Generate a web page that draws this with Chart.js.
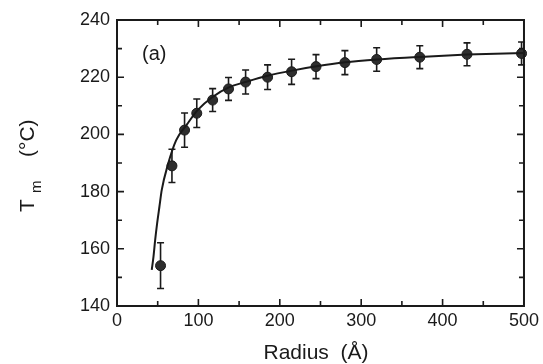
<!DOCTYPE html>
<html>
<head>
<meta charset="utf-8">
<script src="https://cdn.jsdelivr.net/npm/chart.js@4/dist/chart.umd.min.js"></script>
<style>
  body { margin: 0; background: #fff; }
</style>
</head>
<body>
<canvas id="c" width="543" height="364"></canvas>
<script>
// measured points
const radius = [53.5, 67.5, 83, 98, 117.5, 137, 158, 185, 214.5, 244.5, 280, 319, 372, 430, 497]
const tm = [154.1, 189, 201.5, 207.4, 212, 215.9, 218.3, 220, 221.9, 223.7, 225.1, 226.2, 227, 228, 228.3]
const tmErr = [8, 5.8, 6, 5, 4, 4, 4.2, 4.3, 4.4, 4.2, 4.2, 4.1, 4, 4, 4]

// fitted curve
const fitRadius = [42.7, 44.8, 46.9, 49.3, 52.1, 55, 62.4, 72.6, 86, 99, 117, 138, 160, 185, 215, 245, 280, 320, 372, 430, 500]
const fitTm = [152.6, 157.2, 163.1, 168.9, 174.7, 180.6, 189.3, 197.9, 203.5, 208.5, 213, 216.5, 218.5, 220.5, 222.3, 223.8, 225.2, 226.2, 227.1, 227.9, 228.5]

const xTicks = [0, 100, 200, 300, 400, 500]
const yTicks = [140, 160, 180, 200, 220, 240]

const ink = '#1a1a1a'
const font = 'Liberation Sans, Arial, sans-serif'

const decor = {
  id: 'decor',
  beforeDatasetsDraw(chart) {
    const { ctx, scales: { x, y } } = chart
    ctx.save()
    ctx.strokeStyle = ink
    ctx.lineWidth = 1.6
    radius.forEach((r, i) => {
      const px = x.getPixelForValue(r)
      const top = y.getPixelForValue(tm[i] + tmErr[i])
      const bot = y.getPixelForValue(tm[i] - tmErr[i])
      ctx.beginPath()
      ctx.moveTo(px, top); ctx.lineTo(px, bot)
      ctx.moveTo(px - 3.5, top); ctx.lineTo(px + 3.5, top)
      ctx.moveTo(px - 3.5, bot); ctx.lineTo(px + 3.5, bot)
      ctx.stroke()
    })
    ctx.restore()
  },
  afterDraw(chart) {
    const { ctx, chartArea: a, scales: { x, y } } = chart
    ctx.save()
    ctx.strokeStyle = ink
    ctx.lineWidth = 2
    ctx.strokeRect(a.left, a.top, a.right - a.left, a.bottom - a.top)

    // inward ticks on all sides
    ctx.lineWidth = 1.6
    ctx.beginPath()
    for (let v = 50; v < 500; v += 50) {
      const len = v % 100 === 0 ? 7 : 5
      const px = x.getPixelForValue(v)
      ctx.moveTo(px, a.bottom); ctx.lineTo(px, a.bottom - len)
      ctx.moveTo(px, a.top); ctx.lineTo(px, a.top + len)
    }
    for (let v = 150; v < 240; v += 10) {
      const len = v % 20 === 0 ? 7 : 5
      const py = y.getPixelForValue(v)
      ctx.moveTo(a.left, py); ctx.lineTo(a.left + len, py)
      ctx.moveTo(a.right, py); ctx.lineTo(a.right - len, py)
    }
    ctx.stroke()

    ctx.fillStyle = ink
    ctx.textBaseline = 'alphabetic'

    // panel label
    ctx.font = '20px ' + font
    ctx.textAlign = 'left'
    ctx.fillText('(a)', 142, 60)

    // x title
    ctx.font = '21px ' + font
    ctx.textAlign = 'center'
    ctx.fillText('Radius  (Å)', 316, 359)

    // y title, rotated
    ctx.translate(34, 212)
    ctx.rotate(-Math.PI / 2)
    ctx.textAlign = 'left'
    ctx.font = '21px ' + font
    ctx.fillText('T', 0, 0)
    ctx.font = '15px ' + font
    ctx.fillText('m', 19, 7)
    ctx.font = '21px ' + font
    ctx.fillText('(°C)', 55, 0)
    ctx.restore()
  }
}

new Chart(document.getElementById('c'), {
  type: 'scatter',
  data: {
    datasets: [
      {
        type: 'line',
        data: fitRadius.map((r, i) => ({ x: r, y: fitTm[i] })),
        borderColor: ink,
        borderWidth: 2,
        pointRadius: 0,
        cubicInterpolationMode: 'monotone',
        fill: false
      },
      {
        data: radius.map((r, i) => ({ x: r, y: tm[i] })),
        backgroundColor: '#2e2e2e',
        borderColor: ink,
        borderWidth: 1,
        pointRadius: 5
      }
    ]
  },
  options: {
    responsive: false,
    animation: false,
    clip: false,
    layout: { padding: { top: 20, right: 18, left: 0, bottom: 0 } },
    plugins: { legend: { display: false }, tooltip: { enabled: false } },
    scales: {
      x: {
        type: 'linear',
        min: 0,
        max: 500,
        afterFit: s => { s.height = 58 },
        afterBuildTicks: s => { s.ticks = xTicks.map(v => ({ value: v })) },
        grid: { drawOnChartArea: false, drawTicks: false },
        border: { display: false },
        ticks: { color: ink, padding: 4, maxRotation: 0, font: { family: font, size: 18 } }
      },
      y: {
        min: 140,
        max: 240,
        afterFit: s => { s.width = 117 },
        afterBuildTicks: s => { s.ticks = yTicks.map(v => ({ value: v })) },
        grid: { drawOnChartArea: false, drawTicks: false },
        border: { display: false },
        ticks: { color: ink, padding: 7, font: { family: font, size: 18 } }
      }
    }
  },
  plugins: [decor]
})
</script>
</body>
</html>
